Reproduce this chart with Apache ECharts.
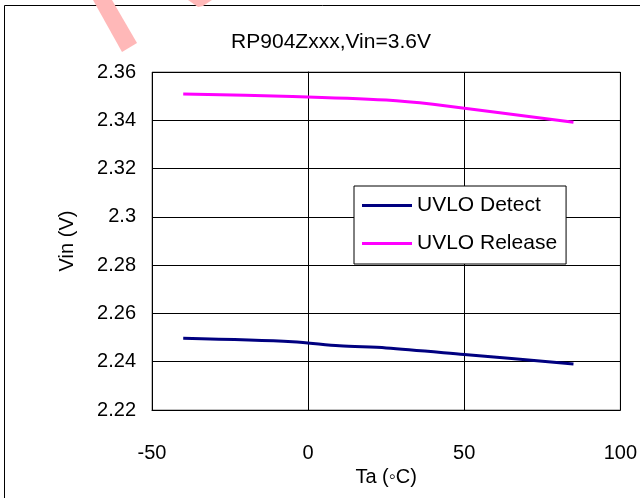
<!DOCTYPE html>
<html>
<head>
<meta charset="utf-8">
<script src="https://cdn.jsdelivr.net/npm/echarts@6/dist/echarts.min.js"></script>
<style>html,body{margin:0;padding:0;background:#fff;}#c{width:640px;height:498px;}</style>
</head>
<body>
<div id="c"></div>
<script>
const titleText = 'RP904Zxxx,Vin=3.6V';
const seriesNames = ['UVLO Detect', 'UVLO Release'];
const detectTa = [-40, -5, 10, 25, 50, 85];
const detectVin = [2.2497, 2.2483, 2.2466, 2.2457, 2.2430, 2.2391];
const releaseTa = [-40, -5, 25, 40, 85];
const releaseVin = [2.3509, 2.3499, 2.3484, 2.3466, 2.3392];
const xTicks = [-50, 0, 50, 100];
const yTicks = [2.22, 2.24, 2.26, 2.28, 2.3, 2.32, 2.34, 2.36];

const chart = echarts.init(document.getElementById('c'), null, {renderer: 'canvas'});
const font = 'Liberation Sans, Arial, sans-serif';
const pair = (xs, ys) => xs.map((x, i) => [x, ys[i]]);

chart.setOption({
  animation: false,
  backgroundColor: '#fff',
  textStyle: {fontFamily: font},
  title: {
    text: titleText, left: 326, top: 27, textAlign: 'center',
    textStyle: {fontFamily: font, fontSize: 21, fontWeight: 'normal', color: '#000'}
  },
  grid: {left: 152, right: 18, top: 72, bottom: 88, show: true, borderColor: '#808080', borderWidth: 1, backgroundColor: '#fff'},
  legend: {
    orient: 'vertical', left: 354, top: 186,
    padding: [9, 9, 10, 8], itemGap: 17,
    itemWidth: 50, itemHeight: 3,
    backgroundColor: '#fff', borderColor: '#000', borderWidth: 1,
    textStyle: {fontFamily: font, fontSize: 21, color: '#000'},
    data: seriesNames.map(n => ({name: n, icon: 'rect'}))
  },
  xAxis: {
    type: 'value', min: xTicks[0], max: xTicks[xTicks.length - 1], interval: 50,
    name: 'Ta (◦C)', nameLocation: 'middle', nameGap: 57,
    nameTextStyle: {fontFamily: font, fontSize: 20, color: '#000'},
    axisLine: {show: true, lineStyle: {color: '#000', width: 1}},
    axisTick: {show: false},
    axisLabel: {margin: 33, fontFamily: font, fontSize: 20, color: '#000'},
    splitLine: {show: true, lineStyle: {color: '#000', width: 1}}
  },
  yAxis: {
    type: 'value', min: yTicks[0], max: yTicks[yTicks.length - 1], interval: 0.02,
    name: 'Vin (V)', nameLocation: 'middle', nameGap: 75,
    nameTextStyle: {fontFamily: font, fontSize: 20, color: '#000'},
    axisLine: {show: true, lineStyle: {color: '#000', width: 1}},
    axisTick: {show: false},
    axisLabel: {margin: 16, fontFamily: font, fontSize: 20, color: '#000',
      formatter: v => String(parseFloat(Number(v).toFixed(2)))},
    splitLine: {show: true, lineStyle: {color: '#000', width: 1}}
  },
  series: [
    {name: seriesNames[0], type: 'line', data: pair(detectTa, detectVin), showSymbol: false, symbol: 'none', smooth: 0.3,
      lineStyle: {color: '#000080', width: 3}, itemStyle: {color: '#000080'}},
    {name: seriesNames[1], type: 'line', data: pair(releaseTa, releaseVin), showSymbol: false, symbol: 'none', smooth: 0.3,
      lineStyle: {color: '#ff00ff', width: 3}, itemStyle: {color: '#ff00ff'}}
  ],
  graphic: [
    {type: 'rect', z: -1, shape: {x: 4.5, y: 5.5, width: 1000, height: 1000}, style: {fill: 'none', stroke: '#000', lineWidth: 1}},
    {type: 'polygon', z: 100, shape: {points: [[93, 0], [112, 0], [137, 43], [122, 52]]}, style: {fill: '#ffb8b8'}},
    {type: 'polygon', z: 100, shape: {points: [[188, 0], [212, 0], [203, 6], [198, 7]]}, style: {fill: '#ffb8b8'}}
  ]
});
</script>
</body>
</html>
